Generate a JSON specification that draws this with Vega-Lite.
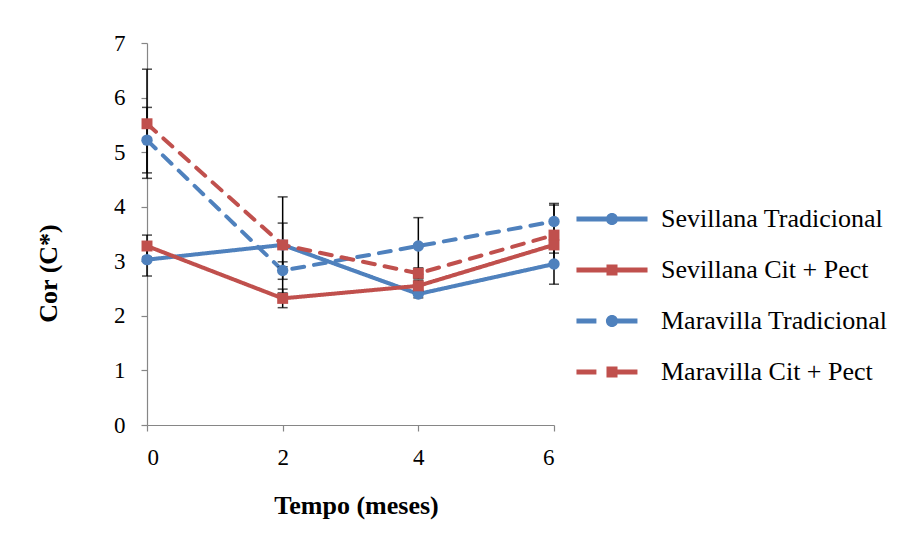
{
  "$schema": "https://vega.github.io/schema/vega-lite/v6.json",
  "autosize": {"type": "none"},
  "width": 407,
  "height": 382,
  "padding": {"left": 147, "top": 43, "right": 352, "bottom": 108},
  "background": "white",
  "config": {
    "view": {"stroke": null},
    "font": "Liberation Serif"
  },
  "data": {"values": [
    {"series": "Sevillana Tradicional", "t": 0, "v": 3.03, "lo": 2.73, "hi": 3.33},
    {"series": "Sevillana Tradicional", "t": 2, "v": 3.3, "lo": 2.9, "hi": 3.7},
    {"series": "Sevillana Tradicional", "t": 4, "v": 2.4, "lo": 2.33, "hi": 2.47},
    {"series": "Sevillana Tradicional", "t": 6, "v": 2.95, "lo": 2.58, "hi": 3.32},
    {"series": "Sevillana Cit + Pect", "t": 0, "v": 3.28, "lo": 3.08, "hi": 3.48},
    {"series": "Sevillana Cit + Pect", "t": 2, "v": 2.32, "lo": 2.15, "hi": 2.49},
    {"series": "Sevillana Cit + Pect", "t": 4, "v": 2.55, "lo": 2.45, "hi": 2.65},
    {"series": "Sevillana Cit + Pect", "t": 6, "v": 3.3, "lo": 3.15, "hi": 3.45},
    {"series": "Maravilla Tradicional", "t": 0, "v": 5.22, "lo": 4.62, "hi": 5.82},
    {"series": "Maravilla Tradicional", "t": 2, "v": 2.83, "lo": 2.67, "hi": 2.99},
    {"series": "Maravilla Tradicional", "t": 4, "v": 3.28, "lo": 2.76, "hi": 3.8},
    {"series": "Maravilla Tradicional", "t": 6, "v": 3.73, "lo": 3.4, "hi": 4.06},
    {"series": "Maravilla Cit + Pect", "t": 0, "v": 5.52, "lo": 4.52, "hi": 6.52},
    {"series": "Maravilla Cit + Pect", "t": 2, "v": 3.3, "lo": 2.42, "hi": 4.18},
    {"series": "Maravilla Cit + Pect", "t": 4, "v": 2.78, "lo": 2.68, "hi": 2.88},
    {"series": "Maravilla Cit + Pect", "t": 6, "v": 3.48, "lo": 2.93, "hi": 4.03}
  ]},
  "encoding": {
    "x": {"field": "t", "type": "quantitative", "scale": {"domain": [0, 6], "nice": false}, "axis": {"values": [0, 2, 4, 6], "format": "d", "title": "Tempo (meses)", "grid": false, "domainColor": "#868686", "tickColor": "#868686", "domainWidth": 1.2, "tickWidth": 1.2, "tickSize": 6, "labelPadding": 15, "labelFont": "Liberation Serif", "labelFontSize": 23, "labelColor": "black", "titleFont": "Liberation Serif", "titleFontSize": 26, "titleFontWeight": "bold", "titleColor": "black", "titlePadding": 23, "titleX": 209}}
  },
  "layer": [
    {
      "mark": {"type": "line", "strokeWidth": 4, "strokeCap": "round"},
      "encoding": {
        "y": {"field": "v", "type": "quantitative", "scale": {"domain": [0, 7], "nice": false}, "axis": {"values": [0, 1, 2, 3, 4, 5, 6, 7], "format": "d", "title": "Cor (C*)", "grid": false, "domainColor": "#868686", "tickColor": "#868686", "domainWidth": 1.2, "tickWidth": 1.2, "tickSize": 6, "labelPadding": 16, "labelFont": "Liberation Serif", "labelFontSize": 23, "labelColor": "black", "titleFont": "Liberation Serif", "titleFontSize": 26, "titleFontWeight": "bold", "titleColor": "black", "titlePadding": 52, "titleY": 230}},
        "color": {"field": "series", "type": "nominal", "scale": {"domain": ["Sevillana Tradicional", "Sevillana Cit + Pect", "Maravilla Tradicional", "Maravilla Cit + Pect"], "range": ["#4F81BD", "#C0504D", "#4F81BD", "#C0504D"]}, "legend": {"title": null, "orient": "none", "legendX": 446, "legendY": 157, "padding": 0, "rowPadding": 19, "labelOffset": 30, "labelFont": "Liberation Serif", "labelFontSize": 26, "labelColor": "black", "labelLimit": 400, "symbolSize": 1444, "symbolStrokeWidth": 0, "symbolOpacity": 1}},
        "strokeDash": {"field": "series", "type": "nominal", "scale": {"domain": ["Sevillana Tradicional", "Sevillana Cit + Pect", "Maravilla Tradicional", "Maravilla Cit + Pect"], "range": [[1, 0], [1, 0], [12, 10], [12, 10]]}, "legend": null}
      }
    },
    {
      "mark": {"type": "rule", "color": "black", "strokeWidth": 1.5},
      "encoding": {"y": {"field": "lo", "type": "quantitative"}, "y2": {"field": "hi"}}
    },
    {
      "mark": {"type": "tick", "color": "black", "orient": "horizontal", "size": 10, "thickness": 1.5},
      "encoding": {"y": {"field": "lo", "type": "quantitative"}}
    },
    {
      "mark": {"type": "tick", "color": "black", "orient": "horizontal", "size": 10, "thickness": 1.5},
      "encoding": {"y": {"field": "hi", "type": "quantitative"}}
    },
    {
      "transform": [{"filter": "indexof(datum.series, 'Tradicional') >= 0"}],
      "mark": {"type": "point", "shape": "circle", "filled": true, "opacity": 1, "size": 130},
      "encoding": {
        "y": {"field": "v", "type": "quantitative"},
        "color": {"field": "series", "type": "nominal"}
      }
    },
    {
      "transform": [{"filter": "indexof(datum.series, 'Cit') >= 0"}],
      "mark": {"type": "point", "shape": "square", "filled": true, "opacity": 1, "size": 120},
      "encoding": {
        "y": {"field": "v", "type": "quantitative"},
        "color": {"field": "series", "type": "nominal"}
      }
    },
    {
      "transform": [{"filter": "datum.t > 100"}],
      "mark": {"type": "point", "filled": true, "opacity": 1, "size": 1444},
      "encoding": {
        "y": {"field": "v", "type": "quantitative"},
        "color": {"field": "series", "type": "nominal"},
        "shape": {"field": "series", "type": "nominal", "scale": {"domain": ["Sevillana Tradicional", "Sevillana Cit + Pect", "Maravilla Tradicional", "Maravilla Cit + Pect"], "range": [
          "M-1.87,-0.13H1.87V0.13H-1.87Z M-0.32,0A0.32,0.32 0 1,1 0.32,0A0.32,0.32 0 1,1 -0.32,0Z",
          "M-1.87,-0.13H1.87V0.13H-1.87Z M-0.29,-0.29H0.29V0.29H-0.29Z",
          "M-1.87,-0.13H-0.82V0.13H-1.87Z M-0.29,-0.13H1.34V0.13H-0.29Z M-0.32,0A0.32,0.32 0 1,1 0.32,0A0.32,0.32 0 1,1 -0.32,0Z",
          "M-1.87,-0.13H-0.82V0.13H-1.87Z M-0.29,-0.13H1.34V0.13H-0.29Z M-0.29,-0.29H0.29V0.29H-0.29Z"
        ]}, "legend": {"title": null}}
      }
    }
  ]
}
